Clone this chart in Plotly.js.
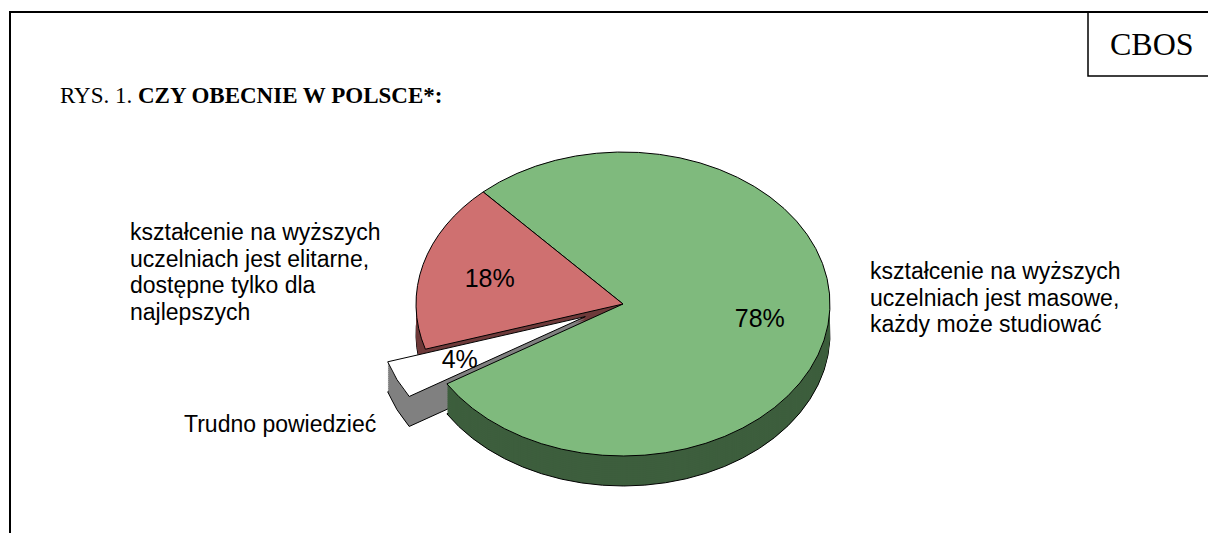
<!DOCTYPE html>
<html><head><meta charset="utf-8">
<script src="https://cdn.plot.ly/plotly-3.0.1.min.js"></script>
<style>html,body{margin:0;padding:0;background:#fff}#chart{width:1208px;height:533px}</style>
</head><body><div id="chart"></div>
<script>
// ---- data ----
const categories = [
  'kształcenie na wyższych<br>uczelniach jest masowe,<br>każdy może studiować',
  'Trudno powiedzieć',
  'kształcenie na wyższych<br>uczelniach jest elitarne,<br>dostępne tylko dla<br>najlepszych'
];
const values = [78, 4, 18];
const topColors = ['#7fba7d', '#ffffff', '#cf7070'];
const sideColors = ['#3d5e3d', '#808080', '#6e3a3a'];
const titleText = 'RYS. 1. <b>CZY OBECNIE W POLSCE*:</b>';
const sourceText = 'CBOS';

// ---- layout constants ----
const W = 1208, H = 533;
const CX = 623, CY = 304, RX = 207, RY = 152, DEPTH = 30;
const pulls = [0, 0.2, 0];
const ROT = -42.5;
const TEXT_R = 0.667;   // radial position of the percentage labels (fraction of radius)
const labelPos = [{x: 868, y: 271}, {x: 182, y: 424}, {x: 128, y: 232}];
const LINE = 26.7;
const sans = 'Liberation Sans, Arial, sans-serif';
const serif = 'Liberation Serif, Times New Roman, serif';

const offsets = [];
for (let d = DEPTH; d > 0; d -= 2) offsets.push(d);
offsets.push(0);

const data = offsets.map((d, i) => {
  const isTop = d === 0, isBottom = i === 0;
  return {
    type: 'pie', values: values, labels: categories.map(c => c.replace(/<br>/g, ' ')),
    sort: false, direction: 'clockwise', rotation: ROT, pull: pulls,
    domain: {x: [0, 1], y: [0, 1]},
    marker: {colors: isTop ? topColors : sideColors,
             line: {color: (isTop || isBottom) ? '#000' : 'rgba(0,0,0,0)', width: (isTop || isBottom) ? 1 : 0}},
    textinfo: isTop ? 'percent' : 'none',
    textposition: 'inside', insidetextorientation: 'horizontal',
    textfont: {family: sans, size: 25, color: '#000'},
    hoverinfo: 'skip', showlegend: false
  };
});

const px = v => v / W, py = v => 1 - v / H;
const annotations = [
  {text: titleText, x: px(58), y: py(95), xanchor: 'left', yanchor: 'middle',
   font: {family: serif, size: 23, color: '#000'}},
  {text: sourceText, x: px(1152), y: py(44), xanchor: 'center', yanchor: 'middle',
   font: {family: serif, size: 32, color: '#000'}}
];
categories.forEach((c, i) => {
  c.split('<br>').forEach((line, k) => {
    annotations.push({text: line, x: px(labelPos[i].x), y: py(labelPos[i].y + k * LINE),
      xanchor: 'left', yanchor: 'middle', font: {family: sans, size: 23, color: '#000'}});
  });
});
annotations.forEach(a => { a.xref = 'paper'; a.yref = 'paper'; a.showarrow = false; });

const layout = {
  width: W, height: H, margin: {l: 0, r: 0, t: 0, b: 0},
  paper_bgcolor: '#fff', showlegend: false,
  uniformtext: {mode: 'show', minsize: 25},
  annotations: annotations,
  shapes: [
    {type: 'rect', xref: 'paper', yref: 'paper', x0: px(10), x1: px(1215), y0: py(12), y1: py(560),
     line: {color: '#000', width: 2}},
    {type: 'rect', xref: 'paper', yref: 'paper', x0: px(1088), x1: px(1215), y0: py(12), y1: py(76),
     line: {color: '#000', width: 1.5}}
  ]
};

Plotly.newPlot('chart', data, layout, {staticPlot: true}).then(gd => {
  const groups = gd.querySelectorAll('.pielayer g.trace');
  groups.forEach((g, i) => {
    const cd0 = gd.calcdata[i][0];
    const r = cd0.r, cx = cd0.cx, cy = cd0.cy;
    const sx = RX / r, sy = RY / r;
    g.setAttribute('transform', `translate(${CX},${CY + offsets[i]}) scale(${sx},${sy}) translate(${-cx},${-cy})`);
    g.querySelectorAll('path').forEach(p => p.setAttribute('vector-effect', 'non-scaling-stroke'));
    g.querySelectorAll('text').forEach(t => {
      const bb = t.getBBox();
      const m = t.getCTM();
      const bx = bb.x + bb.width / 2, by = bb.y + bb.height / 2;
      const X = m.a * bx + m.c * by + m.e, Y = m.b * bx + m.d * by + m.f;
      let TX = X, TY = Y;
      const sl = t.closest('g.slice');
      const pt = sl && sl.__data__;
      if (pt && pt.pxmid) {
        const ux = pt.pxmid[0] / r, uy = pt.pxmid[1] / r;
        const k = (pulls[pt.i] || 0) + TEXT_R;
        TX = CX + RX * ux * k;
        TY = CY + RY * uy * k;
      }
      const M = new DOMMatrix().translate(TX, TY).scale(1 / sx, 1 / sy).translate(-X, -Y)
        .multiply(new DOMMatrix([m.a, m.b, m.c, m.d, m.e, m.f]));
      const pm = t.parentNode.getCTM();
      const L = new DOMMatrix([pm.a, pm.b, pm.c, pm.d, pm.e, pm.f]).inverse().multiply(M);
      t.setAttribute('transform', `matrix(${L.a},${L.b},${L.c},${L.d},${L.e},${L.f})`);
    });
  });
});
</script>
</body></html>
